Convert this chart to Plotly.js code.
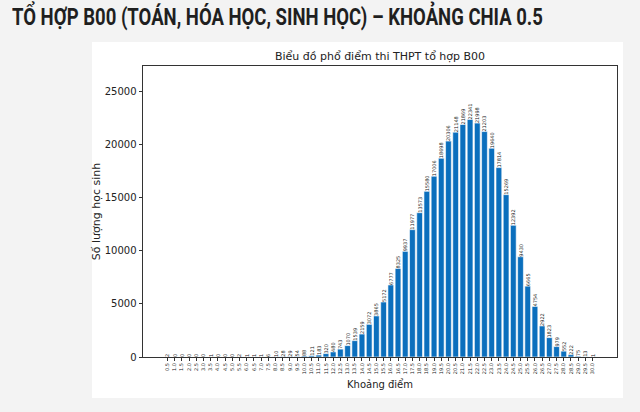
<!DOCTYPE html>
<html>
<head>
<meta charset="utf-8">
<script src="https://cdn.plot.ly/plotly-3.0.1.min.js"></script>
<style>
  html, body { margin: 0; padding: 0; background: #f3f3f3; }
  #wrap { position: relative; width: 640px; height: 412px; }
  #chart { width: 640px; height: 412px; }
  #heading {
    position: absolute;
    left: 12px;
    top: 4px;
    font-family: Roboto, sans-serif;
    font-weight: bold;
    font-size: 23px;
    line-height: 28px;
    color: #1f1f1f;
    white-space: nowrap;
    transform: scaleX(0.805);
    transform-origin: left top;
    z-index: 2;
  }
</style>
</head>
<body>
<div id="wrap">
  <div id="heading">TỔ HỢP B00 (TOÁN, HÓA HỌC, SINH HỌC) – KHOẢNG CHIA 0.5</div>
  <div id="chart"></div>
</div>
<script>
const scores = [
  "0.5", "1.0", "1.5", "2.0", "2.5", "3.0", "3.5", "4.0", "4.5", "5.0",
  "5.5", "6.0", "6.5", "7.0", "7.5", "8.0", "8.5", "9.0", "9.5", "10.0",
  "10.5", "11.0", "11.5", "12.0", "12.5", "13.0", "13.5", "14.0", "14.5", "15.0",
  "15.5", "16.0", "16.5", "17.0", "17.5", "18.0", "18.5", "19.0", "19.5", "20.0",
  "20.5", "21.0", "21.5", "22.0", "22.5", "23.0", "23.5", "24.0", "24.5", "25.0",
  "25.5", "26.0", "26.5", "27.0", "27.5", "28.0", "28.5", "29.0", "29.5", "30.0",
];
const students = [
  2, 0, 0, 0, 0, 0, 1, 0, 0, 0,
  2, 1, 1, 1, 6, 10, 28, 29, 54, 88,
  121, 183, 320, 480, 743, 1070, 1539, 2159, 3072, 3865,
  5172, 6777, 8325, 9937, 11977, 13573, 15580, 17006, 18698, 20306,
  21148, 21869, 22341, 21998, 21203, 19640, 17814, 15269, 12392, 9430,
  6665, 4754, 2922, 1823, 979, 552, 222, 75, 13, 1,
];
const yTicks = [0, 5000, 10000, 15000, 20000, 25000];

const textColor = "#222222";
const mplFont = "DejaVu Sans, sans-serif";

Plotly.newPlot(
  "chart",
  [
    {
      type: "bar",
      x: scores,
      y: students,
      text: students.map(String),
      textposition: "outside",
      textangle: -90,
      constraintext: "none",
      cliponaxis: false,
      textfont: { family: mplFont, size: 5, color: textColor },
      marker: { color: "#0b6fbd", line: { color: "#ffffff", width: 0.6 } },
      width: 0.8,
      hoverinfo: "x+y",
    },
  ],
  {
    width: 640,
    height: 412,
    margin: { l: 143, r: 23, t: 66, b: 55 },
    paper_bgcolor: "#f3f3f3",
    plot_bgcolor: "#ffffff",
    showlegend: false,
    font: { family: mplFont, color: textColor },
    title: {
      text: "Biểu đồ phổ điểm thi THPT tổ hợp B00",
      font: { family: mplFont, size: 11, color: textColor },
      x: 0.5,
      xref: "paper",
      xanchor: "center",
      y: 1 - 56 / 412,
      yanchor: "middle",
    },
    xaxis: {
      type: "category",
      range: [-3.39, 62.39],
      tickangle: -90,
      tickfont: { size: 5, color: textColor },
      ticks: "outside",
      ticklen: 3,
      tickcolor: "#333",
      showgrid: false,
      zeroline: false,
      showline: true,
      mirror: true,
      linecolor: "#333",
      linewidth: 1,
      title: { text: "Khoảng điểm", font: { size: 10, color: textColor }, standoff: 7 },
    },
    yaxis: {
      range: [0, 27370],
      tickvals: yTicks,
      ticktext: yTicks.map(String),
      tickfont: { size: 10, color: textColor },
      ticks: "outside",
      ticklen: 3.5,
      tickcolor: "#333",
      showgrid: false,
      zeroline: false,
      showline: true,
      mirror: true,
      linecolor: "#333",
      linewidth: 1,
      title: { text: "Số lượng học sinh", font: { size: 11, color: textColor }, standoff: 1 },
    },
    shapes: [
      {
        type: "rect",
        xref: "paper",
        yref: "paper",
        x0: (92 - 143) / 474,
        x1: (623 - 143) / 474,
        y0: (357 - 398) / 291,
        y1: (357 - 42) / 291,
        fillcolor: "#ffffff",
        line: { width: 0 },
        layer: "below",
      },
    ],
  },
  { displayModeBar: false, staticPlot: true },
);
</script>
</body>
</html>
